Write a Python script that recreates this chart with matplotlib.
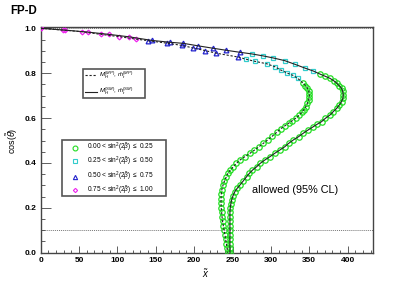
import matplotlib
matplotlib.use("Agg")
import matplotlib.pyplot as plt
from matplotlib.patches import Rectangle
from matplotlib.lines import Line2D
import numpy as np

plt.rcParams['font.family'] = ['Liberation Sans', 'DejaVu Sans']
plt.rcParams['mathtext.fontset'] = 'custom'
plt.rcParams['mathtext.rm'] = 'Liberation Sans'
plt.rcParams['mathtext.it'] = 'Liberation Sans:italic'
plt.rcParams['mathtext.bf'] = 'Liberation Sans:bold'

# ---------------- data ----------------
# SM curve (solid): x~ and cos(theta~), grouped by sin^2(2beta~) bin
sm_bin3_x = [0, 31.7, 62, 89, 115.4]
sm_bin3_c = [1.0, 0.992, 0.983, 0.973, 0.962]
sm_bin2_x = [145, 168, 186, 205, 225, 242, 260]
sm_bin2_c = [0.946, 0.938, 0.933, 0.922, 0.911, 0.902, 0.893]
sm_bin1_x = [275, 290, 303, 318, 331, 345, 355]
sm_bin1_c = [0.886, 0.877, 0.868, 0.856, 0.840, 0.822, 0.810]
sm_bin0_x = [364, 371, 377, 382, 386, 389, 392, 393.5, 394.3, 394, 392, 389,
             385.6, 381, 377, 371, 366, 360, 355, 348, 342, 336, 329, 323, 318,
             311.8, 305, 298.8, 292, 286, 281.4, 276, 272, 268.4, 264, 259.7,
             256, 253, 250.5, 248.8, 247.8, 247, 246.6, 246.6, 246.6, 246.6,
             246.6, 246.6, 246.6, 246.6, 246.6, 246.6]
sm_bin0_c = [0.796, 0.786, 0.777, 0.766, 0.755, 0.744, 0.733, 0.720, 0.705,
             0.690, 0.673, 0.658, 0.643, 0.628, 0.614, 0.599, 0.584, 0.572,
             0.561, 0.546, 0.532, 0.517, 0.502, 0.487, 0.472, 0.458, 0.443,
             0.428, 0.413, 0.398, 0.383, 0.368, 0.354, 0.339, 0.320, 0.302,
             0.287, 0.272, 0.253, 0.235, 0.218, 0.200, 0.180, 0.160, 0.140,
             0.120, 0.100, 0.080, 0.060, 0.040, 0.020, 0.0]

# MP curve (dashed)
mp_bin3_x = [0, 29.5, 53.4, 78.6, 102, 124]
mp_bin3_c = [1.0, 0.992, 0.985, 0.973, 0.963, 0.952]
mp_bin2_x = [140, 164, 184, 199, 214, 229, 257.5]
mp_bin2_c = [0.945, 0.934, 0.924, 0.912, 0.901, 0.889, 0.872]
mp_bin1_x = [268, 279, 294.5, 305, 313, 321, 329, 335]
mp_bin1_c = [0.862, 0.853, 0.842, 0.829, 0.814, 0.801, 0.790, 0.777]
mp_bin0_x = [342, 345, 347.5, 349.3, 350.2, 350, 349, 347.5, 345.5, 343, 340,
             336.5, 332.5, 328, 323, 318, 313, 308, 302, 296, 290, 284, 278,
             272.7, 266, 259.7, 255, 251, 247, 244, 242, 239.5, 237.5, 236,
             235.3, 235, 235, 235.3, 235.8, 236.3, 237, 238, 239, 240, 241,
             242, 242.8, 243.5]
mp_bin0_c = [0.755, 0.745, 0.733, 0.720, 0.706, 0.693, 0.679, 0.666, 0.651,
             0.638, 0.625, 0.612, 0.600, 0.589, 0.577, 0.565, 0.553, 0.538,
             0.520, 0.503, 0.487, 0.471, 0.456, 0.443, 0.428, 0.413, 0.398,
             0.383, 0.368, 0.354, 0.339, 0.320, 0.300, 0.280, 0.260, 0.240,
             0.220, 0.200, 0.180, 0.160, 0.140, 0.120, 0.100, 0.080, 0.060,
             0.040, 0.020, 0.0]

bin_labels = [r'0.00 < sin$^2$(2$\tilde{\beta}$) $\leq$ 0.25',
              r'0.25 < sin$^2$(2$\tilde{\beta}$) $\leq$ 0.50',
              r'0.50 < sin$^2$(2$\tilde{\beta}$) $\leq$ 0.75',
              r'0.75 < sin$^2$(2$\tilde{\beta}$) $\leq$ 1.00']
curve_labels = [r'$M_H^{(MP)}$, $\bar{m}_t^{(MP)}$',
                r'$M_H^{(SM)}$, $\bar{m}_t^{(SM)}$']
x_ticks = [0, 50, 100, 150, 200, 250, 300, 350, 400]
y_ticks = [0.0, 0.2, 0.4, 0.6, 0.8, 1.0]

# ---------------- style ----------------
bin_colors = ['#22dd22', '#33cccc', '#2222cc', '#ee22ee']
bin_markers = ['o', 's', '^', 'D']
bin_ms = [3.9, 3.3, 3.4, 2.4]

fig = plt.figure(figsize=(4.15, 2.81), dpi=100)
ax = fig.add_axes([0.098, 0.1007, 0.8015, 0.8033])
ax.set_xlim(0, 433.4)
ax.set_ylim(0, 1.006)

ax.axhline(1.0, ls=(0, (1, 1)), color='#777777', lw=0.7, zorder=1)
ax.axhline(0.1, ls=(0, (1, 1)), color='#777777', lw=0.7, zorder=1)

sm_bins = [(sm_bin0_x, sm_bin0_c), (sm_bin1_x, sm_bin1_c),
           (sm_bin2_x, sm_bin2_c), (sm_bin3_x, sm_bin3_c)]
mp_bins = [(mp_bin0_x, mp_bin0_c), (mp_bin1_x, mp_bin1_c),
           (mp_bin2_x, mp_bin2_c), (mp_bin3_x, mp_bin3_c)]

for bins in (sm_bins, mp_bins):
    for i, (bx, bc) in enumerate(bins):
        ax.plot(bx, bc, ls='none', marker=bin_markers[i], ms=bin_ms[i],
                mfc='none', mec=bin_colors[i], mew=0.9, zorder=3)

sm_x = sm_bin3_x + sm_bin2_x + sm_bin1_x + sm_bin0_x
sm_c = sm_bin3_c + sm_bin2_c + sm_bin1_c + sm_bin0_c
mp_x = mp_bin3_x + mp_bin2_x + mp_bin1_x + mp_bin0_x
mp_c = mp_bin3_c + mp_bin2_c + mp_bin1_c + mp_bin0_c
ax.plot(sm_x, sm_c, color='#222222', lw=0.8, zorder=4)
ax.plot(mp_x, mp_c, color='#222222', lw=0.8, ls=(0, (2, 1.6)), zorder=4)

# axes styling
for s in ax.spines.values():
    s.set_color('#444444')
    s.set_linewidth(1.0)
ax.set_xticks(x_ticks)
ax.set_xticklabels([str(t) for t in x_ticks])
ax.set_yticks(y_ticks)
ax.set_yticklabels(['%.1f' % t for t in y_ticks])
ax.set_xticks(np.arange(0, 431, 10), minor=True)
ax.set_yticks(np.arange(0, 1.001, 0.05), minor=True)
ax.tick_params(axis='x', which='major', direction='in', length=5, width=0.6,
               color='#444444', labelsize=6, pad=3)
ax.tick_params(axis='x', which='minor', direction='in', length=2.5, width=0.6,
               color='#444444')
ax.tick_params(axis='y', which='major', direction='in', length=7, width=0.6,
               color='#444444', labelsize=6, pad=3)
ax.tick_params(axis='y', which='minor', direction='in', length=3, width=0.6,
               color='#444444')
for lab in ax.get_xticklabels() + ax.get_yticklabels():
    lab.set_fontweight('bold')

fig.text(0.029, 0.50, r'cos($\tilde{\theta}$)', rotation=90, fontsize=6.5,
         va='center', ha='center')
fig.text(0.497, 0.028, r'$\tilde{x}$', fontsize=7, va='center', ha='center')
fig.text(0.024, 0.962, 'FP-D', fontsize=8.3, fontweight='bold',
         va='center', ha='left')

ax.text(0.765, 0.279, 'allowed (95% CL)', transform=ax.transAxes,
        fontsize=7.8, ha='center', va='center')

# legend 1 (curves)
ax.add_patch(Rectangle((0.126, 0.687), 0.188, 0.126, transform=ax.transAxes,
                       fill=True, fc='white', ec='#555555', lw=1.2, zorder=6))
for k, (ly, style) in enumerate([(0.787, (0, (2, 1.6))), (0.713, '-')]):
    ax.add_line(Line2D([0.133, 0.170], [ly, ly], transform=ax.transAxes,
                       color='#222222', lw=0.8, ls=style, zorder=7))
    ax.text(0.175, ly, curve_labels[k], transform=ax.transAxes, fontsize=4.4,
            ha='left', va='center', zorder=7)

# legend 2 (bins)
ax.add_patch(Rectangle((0.063, 0.251), 0.314, 0.248, transform=ax.transAxes,
                       fill=True, fc='white', ec='#555555', lw=1.2, zorder=6))
row_y = [0.465, 0.405, 0.337, 0.277]
for i in range(4):
    ax.plot([0.103], [row_y[i]], transform=ax.transAxes, ls='none',
            marker=bin_markers[i], ms=bin_ms[i] * 0.9, mfc='none',
            mec=bin_colors[i], mew=0.8, zorder=7)
    ax.text(0.14, row_y[i], bin_labels[i], transform=ax.transAxes,
            fontsize=4.7, ha='left', va='center', zorder=7)

fig.savefig('out.png', dpi=100)
